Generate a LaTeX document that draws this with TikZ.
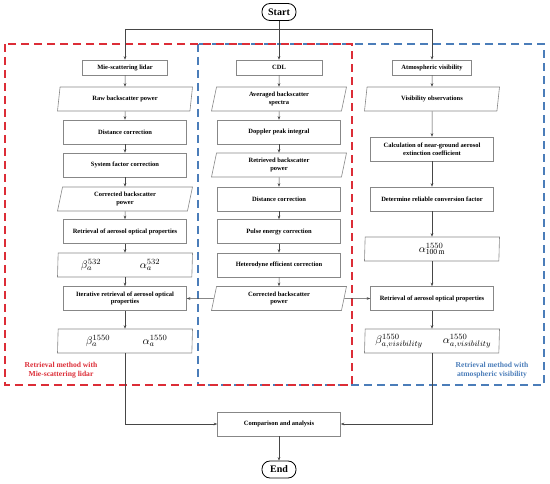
\documentclass[tikz,border=0pt]{standalone}
\usepackage{fontspec}
\setmainfont{Liberation Serif}
\usetikzlibrary{shapes.geometric,arrows.meta}
\definecolor{redd}{RGB}{220,45,55}
\definecolor{blued}{RGB}{75,125,185}
\definecolor{linec}{RGB}{70,70,70}
\definecolor{boxc}{RGB}{135,135,135}
\newcommand{\txtf}{\bfseries\fontsize{6.5}{7.6}\selectfont}
\newcommand{\lblf}{\bfseries\fontsize{7.6}{9.4}\selectfont}
\newcommand{\mthf}{\fontsize{11}{12}\selectfont}
\begin{document}
\begin{tikzpicture}[x=1pt,y=-1pt,
  box/.style={draw=boxc, line width=0.55pt, rectangle, minimum width=123pt, minimum height=24pt, inner sep=1pt, align=center, font=\txtf},
  sbox/.style={box, minimum height=15pt},
  para/.style={draw=boxc, line width=0.6pt, trapezium, trapezium left angle=72, trapezium right angle=108, trapezium stretches body, minimum width=135pt, minimum height=24pt, inner sep=1pt, align=center, font=\txtf},
  mth/.style={inner sep=0pt, font=\mthf},
  term/.style={draw=black, line width=0.8pt, rectangle, rounded corners=8pt, minimum width=34pt, minimum height=17pt, inner sep=1pt, font=\bfseries\fontsize{10}{12}\selectfont},
  ln/.style={draw=linec, line width=0.5pt},
  arr/.style={ln, -{Stealth[length=3.5pt,width=2.6pt]}},
  reg/.style={line width=1.3pt, dash pattern=on 8pt off 5pt}
]
\useasboundingbox (0,0) rectangle (550,484);

% regions
\draw[reg, blued] (198,44) rectangle (544,385);
\draw[reg, redd] (5,44) rectangle (352,385);

% terminals
\node[term] (start) at (279,12) {Start};
\node[term] (end) at (279,469.5) {End};

% left column
\node[sbox, minimum width=85pt] (mie) at (125,67.5) {Mie-scattering lidar};
\node[para] (raw) at (125,99) {Raw backscatter power};
\node[box] (dist1) at (125,132) {Distance correction};
\node[box] (sys) at (125,165) {System factor correction};
\node[para] (corr1) at (125,199) {Corrected backscatter\\power};
\node[box] (ret1) at (125,231.5) {Retrieval of aerosol optical properties};
\node[para] (b532) at (125,265) {};
\node[mth] (b532b) at (91,265) {$\beta_a^{532}$};
\node[mth] (b532a) at (150,265) {$\alpha_a^{532}$};
\node[box] (iter) at (125,298.5) {Iterative retrieval of aerosol optical\\properties};
\node[para] (b1550) at (125,341) {};
\node[mth] (b1550b) at (98,341) {$\beta_a^{1550}$};
\node[mth] (b1550a) at (155,341) {$\alpha_a^{1550}$};

% center column
\node[sbox, minimum width=86pt] (cdl) at (279,67.5) {CDL};
\node[para] (avg) at (279,99) {Averaged backscatter\\spectra};
\node[box] (dop) at (279,132) {Doppler peak integral};
\node[para] (retr) at (279,165) {Retrieved backscatter\\power};
\node[box] (dist2) at (279,199) {Distance correction};
\node[box] (pulse) at (279,231.5) {Pulse energy correction};
\node[box] (het) at (279,265) {Heterodyne efficient correction};
\node[para] (corr2) at (279,298.5) {Corrected backscatter\\power};

% right column
\node[sbox, minimum width=79pt] (atm) at (432,67.5) {Atmospheric visibility};
\node[para] (vis) at (432,99) {Visibility observations};
\node[box] (calc) at (432,149) {Calculation of near-ground aerosol\\extinction coefficient};
\node[box] (det) at (432,199) {Determine reliable conversion factor};
\node[para] (a100) at (432,249) {};
\node[mth] (a100a) at (432,249) {$\alpha^{1550}_{\mathrm{100\,m}}$};
\node[box] (ret3) at (432,298.5) {Retrieval of aerosol optical properties};
\node[para] (bvis) at (432,341) {};
\node[mth] (bvisb) at (399,341) {$\beta_{a,visibility}^{1550}$};
\node[mth] (bvisa) at (467,341) {$\alpha_{a,visibility}^{1550}$};

% bottom
\node[box] (comp) at (279,424) {Comparison and analysis};

% labels
\node[font=\lblf, text=redd, align=center] (lred) at (61,370) {Retrieval method with\\Mie-scattering lidar};
\node[font=\lblf, text=blued, align=center] (lblue) at (492,370) {Retrieval method with\\atmospheric visibility};

% connectors
\coordinate (split) at (279,29);
\draw[ln] (start) -- (split);
\draw[ln] (split -| mie) -- (split -| atm);
\draw[arr] (split -| mie) -- (mie);
\draw[arr] (split) -- (cdl);
\draw[arr] (split -| atm) -- (atm);
\foreach \a/\b in {mie/raw, raw/dist1, dist1/sys, sys/corr1, corr1/ret1, ret1/b532, b532/iter, iter/b1550,
  cdl/avg, avg/dop, dop/retr, retr/dist2, dist2/pulse, pulse/het, het/corr2,
  atm/vis, vis/calc, calc/det, det/a100, a100/ret3, ret3/bvis}
  \draw[arr] (\a) -- (\b);
\draw[arr] (corr2) -- (iter);
\draw[arr] (corr2) -- (ret3);
\draw[arr] (b1550.south) |- (comp.west);
\draw[arr] (bvis.south) |- (comp.east);
\draw[arr] (comp) -- (end);
\end{tikzpicture}
\end{document}
